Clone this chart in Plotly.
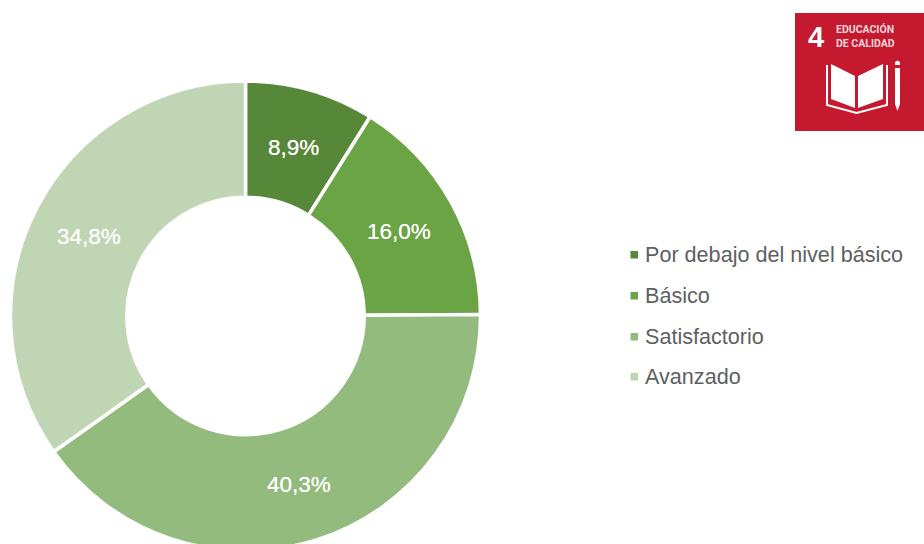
import math
import plotly.graph_objects as go

categories = ["Por debajo del nivel básico", "Básico", "Satisfactorio", "Avanzado"]
values = [8.9, 16.0, 40.3, 34.8]
colors = ["#578738", "#6aa445", "#93bb7d", "#bfd5b4"]
logo_lines = ["EDUCACIÓN", "DE CALIDAD"]

W, H = 924, 552
FONT = "Liberation Sans"


def fx(x):
    return x / W


def fy(y):
    return 1 - y / H


def path(points, close=True):
    s = "M " + " L ".join(f"{fx(x):.5f},{fy(y):.5f}" for x, y in points)
    return s + (" Z" if close else "")


cx, cy, r = 245.5, 316, 235
fig = go.Figure(go.Pie(
    labels=categories,
    values=values,
    hole=0.505,
    sort=False,
    direction="clockwise",
    rotation=0,
    marker=dict(colors=colors, line=dict(color="white", width=3.5)),
    textinfo="none",
    domain=dict(x=[fx(cx - r), fx(cx + r)], y=[fy(cy + r), fy(cy - r)]),
    showlegend=False,
    hoverinfo="label+percent",
))

shapes = []
annotations = []

# slice labels, centred on the ring at each slice's middle angle
ring_r = 176
total = sum(values)
running = 0
for v in values:
    a = 2 * math.pi * (running + v / 2) / total
    running += v
    annotations.append(dict(text=f"{v:.1f}%".replace(".", ","), xref="paper", yref="paper",
                            x=fx(cx - 0.5 + ring_r * math.sin(a)), y=fy(cy + 1 - ring_r * math.cos(a)),
                            xanchor="center", yanchor="middle", showarrow=False,
                            font=dict(family="Liberation Sans", size=22.5, color="white",
                                      shadow="0 0 0.6px white")))

# legend
legend_y = [254.5, 295.5, 336.5, 376.5]
for name, color, y in zip(categories, colors, legend_y):
    shapes.append(dict(type="rect", xref="paper", yref="paper",
                       x0=fx(630.5), x1=fx(638), y0=fy(y + 4), y1=fy(y - 3.5),
                       fillcolor=color, line=dict(width=0)))
    annotations.append(dict(text=name, xref="paper", yref="paper", x=fx(642.5), y=fy(y),
                            xanchor="left", yanchor="middle", showarrow=False,
                            font=dict(family=FONT, size=21.6, color="#5e5f61")))

# logo
RED = "#c4192f"
shapes.append(dict(type="rect", xref="paper", yref="paper", x0=fx(795), x1=fx(924),
                   y0=fy(131), y1=fy(13), fillcolor=RED, line=dict(width=0)))
white = dict(xref="paper", yref="paper", type="path", fillcolor="white", line=dict(width=0))
shapes.append(dict(path=path([(831, 64), (855, 76), (855, 108), (831, 99)]), **white))
shapes.append(dict(path=path([(858, 76), (883, 64), (883, 99), (858, 108)]), **white))
shapes.append(dict(xref="paper", yref="paper", type="path",
                   path=path([(827, 65), (827, 105), (856.5, 113), (887, 105), (887, 65)], close=False),
                   line=dict(color="white", width=2)))
shapes.append(dict(path=path([(895, 68), (900, 68), (900, 104), (897.5, 111), (895, 104)]), **white))
shapes.append(dict(path=path([(895, 65), (895, 62), (897.5, 60.5), (900, 62), (900, 65)]), **white))

annotations.append(dict(text="<b>4</b>", xref="paper", yref="paper", x=fx(816), y=fy(37),
                        xanchor="center", yanchor="middle", showarrow=False,
                        font=dict(family=FONT, size=29, color="white")))
for line, y in zip(logo_lines, [29, 43]):
    annotations.append(dict(text=f"<b>{line}</b>", xref="paper", yref="paper", x=fx(834), y=fy(y),
                            xanchor="left", yanchor="middle", showarrow=False,
                            font=dict(family="Roboto", size=10.5, color="#f3d5d9")))

fig.update_layout(
    width=W, height=H, autosize=False,
    margin=dict(l=0, r=0, t=0, b=0),
    paper_bgcolor="white",
    shapes=shapes,
    annotations=annotations,
)
fig.write_html("out.html", config=dict(displayModeBar=False),
               post_script="document.body.style.margin='0';document.documentElement.style.overflow='hidden';document.body.style.overflow='hidden';")
